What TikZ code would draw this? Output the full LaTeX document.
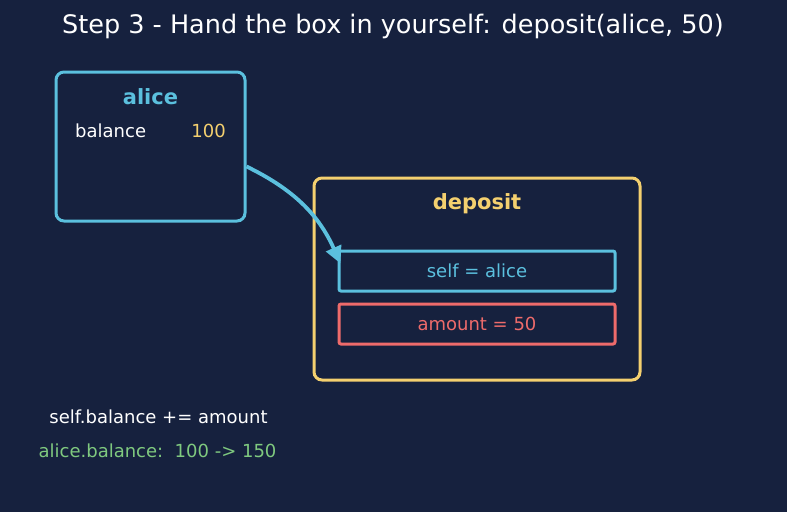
\documentclass[tikz,border=0pt]{standalone}
\usepackage{fontspec}
\setmainfont{DejaVu Sans}
\usetikzlibrary{arrows.meta}
\definecolor{bgnavy}{HTML}{16213E}
\definecolor{objcyan}{HTML}{5BC0DE}
\definecolor{frameyellow}{HTML}{F4D06F}
\definecolor{argred}{HTML}{EE6B6B}
\definecolor{resgreen}{HTML}{7FC97F}
\tikzset{
  box/.style={draw, line width=3pt, rounded corners=8pt, inner sep=0pt},
  slot/.style={draw, line width=3pt, rounded corners=2pt, inner sep=0pt,
    minimum width=276pt, minimum height=40pt},
  txt/.style={font=\fontsize{18}{22}\selectfont, inner sep=0pt},
  head/.style={font=\fontsize{21}{24}\selectfont\bfseries, inner sep=0pt},
  pointer/.style={draw=objcyan, line width=3.8pt, -{Triangle[length=17pt, width=16pt, fill=objcyan]}}
}
\begin{document}
\begin{tikzpicture}[x=1pt, y=-1pt]
  % background
  \fill[bgnavy] (0,0) rectangle (787,512);
  \useasboundingbox (0,0) rectangle (787,512);

  % title
  \node[txt, white, font=\fontsize{25.5}{30}\selectfont] (title) at (393,26) {Step 3 - Hand the box in yourself: deposit(alice, 50)};

  % object alice
  \node[box, objcyan, minimum width=189pt, minimum height=149pt] (alice) at (150.5,146.5) {};
  \node[head, objcyan] (alicename) at (150.5,97) {alice};
  \node[txt, white, anchor=west] (balkey) at (75,131) {balance};
  \node[txt, frameyellow, anchor=east] (balval) at (226,131) {100};

  % frame deposit
  \node[box, frameyellow, minimum width=326pt, minimum height=202pt] (deposit) at (477,279) {};
  \node[head, frameyellow] (depname) at (477,203.5) {deposit};
  \node[slot, objcyan] (self) at (477,271) {};
  \node[txt, objcyan] at (self) {self = alice};
  \node[slot, argred] (amount) at (477,324) {};
  \node[txt, argred] at (amount) {amount = 50};

  % self points at alice
  \coordinate (src) at ([yshift=-20pt]alice.east);
  \coordinate (tgt) at ([shift={(3pt,-14pt)}]self.north west);
  \path[pointer] (src) to[bend left=20] (tgt);

  % effect
  \node[txt, white] (stmt) at (158.5,417) {self.balance += amount};
  \node[txt, resgreen] (result) at (157.5,451) {alice.balance:\ \ 100 -> 150};
\end{tikzpicture}
\end{document}
